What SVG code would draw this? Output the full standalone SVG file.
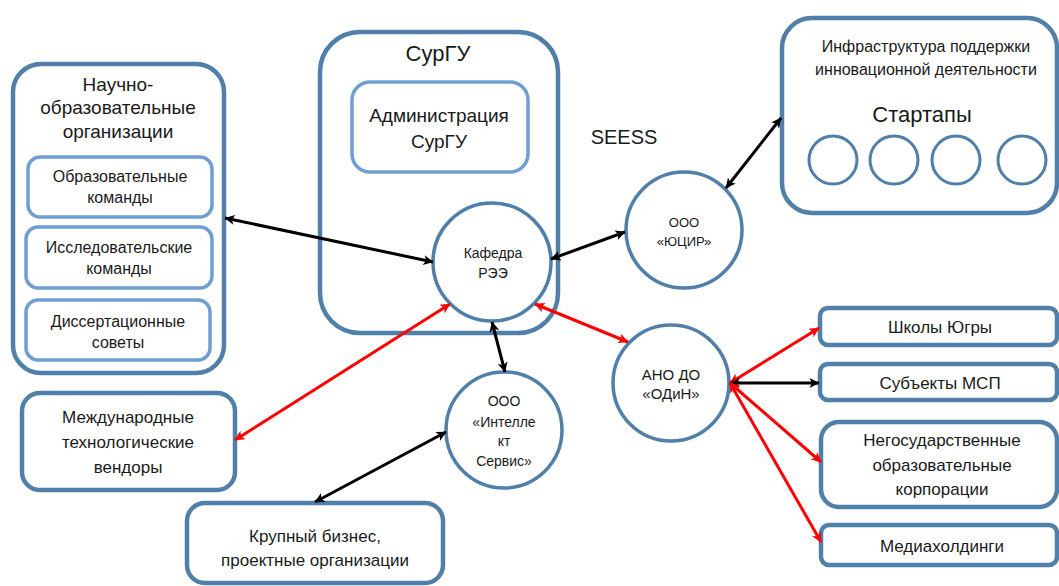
<svg xmlns="http://www.w3.org/2000/svg" width="1059" height="586" viewBox="0 0 1059 586">
  <defs>
    <marker id="ah-black" viewBox="0 0 10 10" refX="9.5" refY="5" markerWidth="11" markerHeight="10" markerUnits="userSpaceOnUse" orient="auto-start-reverse">
      <path d="M0,0 L10,5 L0,10 L2.5,5 Z" fill="#000"/>
    </marker>
    <marker id="ah-red" viewBox="0 0 10 10" refX="9.5" refY="5" markerWidth="11" markerHeight="10" markerUnits="userSpaceOnUse" orient="auto-start-reverse">
      <path d="M0,0 L10,5 L0,10 L2.5,5 Z" fill="#ff0000"/>
    </marker>
  </defs>
  <style>
    .box { fill: #fff; stroke: #507fa9; stroke-width: 4.5; }
    .sub { fill: #fff; stroke: #6f9fd2; stroke-width: 3.5; }
    .circ { fill: #fff; stroke: #507fa9; stroke-width: 3.5; }
    .dot { fill: none; stroke: #507fa9; stroke-width: 3; }
    text { font-family: "Liberation Sans", Arial, sans-serif; fill: #1a1a1a; text-anchor: middle; }
    .t22 { font-size: 22px; }
    .t20 { font-size: 20px; }
    .t19 { font-size: 19px; }
    .t17 { font-size: 17px; }
    .t16 { font-size: 16px; }
    .t15 { font-size: 15px; }
    .t14 { font-size: 14px; }
    .t13 { font-size: 13px; }
    .blk { stroke: #000; stroke-width: 3; fill: none; marker-start: url(#ah-black); marker-end: url(#ah-black); }
    .red { stroke: #ff0000; stroke-width: 3; fill: none; marker-start: url(#ah-red); marker-end: url(#ah-red); }
  </style>

  <rect width="1059" height="586" fill="#fff"/>

  <!-- research & education organisations -->
  <g id="noo">
    <rect class="box" x="13" y="64" width="211" height="309" rx="28"/>
    <text class="t19" x="118" y="91">Научно-</text>
    <text class="t19" x="118" y="114">образовательные</text>
    <text class="t19" x="118" y="138">организации</text>
  </g>
  <g id="edu-teams">
    <rect class="sub" x="28" y="157" width="184" height="60" rx="12"/>
    <text class="t16" x="120" y="182">Образовательные</text>
    <text class="t16" x="120" y="203">команды</text>
  </g>
  <g id="research-teams">
    <rect class="sub" x="26" y="227" width="186" height="61" rx="12"/>
    <text class="t16" x="119" y="253">Исследовательские</text>
    <text class="t16" x="119" y="274">команды</text>
  </g>
  <g id="councils">
    <rect class="sub" x="26" y="300" width="184" height="60" rx="12"/>
    <text class="t16" x="118" y="327">Диссертационные</text>
    <text class="t16" x="118" y="348">советы</text>
  </g>

  <!-- university -->
  <g id="surgu">
    <rect class="box" x="320" y="32" width="238" height="301" rx="40"/>
    <text class="t22" x="438" y="61">СурГУ</text>
  </g>
  <g id="admin">
    <rect class="sub" x="352" y="82" width="176" height="90" rx="18"/>
    <text class="t19" x="439" y="122">Администрация</text>
    <text class="t19" x="439" y="148">СурГУ</text>
  </g>
  <g id="kafedra">
    <circle class="circ" cx="492" cy="262" r="59"/>
    <text class="t14" x="493" y="258">Кафедра</text>
    <text class="t14" x="493" y="278">РЭЭ</text>
  </g>

  <g id="seess">
    <text class="t20" x="624" y="144">SEESS</text>
  </g>

  <!-- innovation infrastructure -->
  <g id="infra">
    <rect class="box" x="782" y="18" width="275" height="195" rx="30"/>
    <text class="t16" x="926" y="52">Инфраструктура поддержки</text>
    <text class="t16" x="926" y="75">инновационной деятельности</text>
    <text class="t22" x="922" y="122">Стартапы</text>
    <circle class="dot" cx="833" cy="160" r="24"/>
    <circle class="dot" cx="894" cy="160" r="24"/>
    <circle class="dot" cx="956" cy="160" r="24"/>
    <circle class="dot" cx="1022" cy="160" r="24"/>
  </g>

  <g id="yucir">
    <circle class="circ" cx="684" cy="230" r="58"/>
    <text class="t13" x="684" y="227">ООО</text>
    <text class="t13" x="684" y="246">«ЮЦИР»</text>
  </g>

  <g id="odin">
    <circle class="circ" cx="671" cy="383" r="58"/>
    <text class="t15" x="671" y="380">АНО ДО</text>
    <text class="t15" x="671" y="399">«ОДиН»</text>
  </g>

  <g id="intellekt">
    <circle class="circ" cx="504" cy="430" r="58"/>
    <text class="t14" x="504" y="406">ООО</text>
    <text class="t14" x="504" y="427">«Интелле</text>
    <text class="t14" x="504" y="446">кт</text>
    <text class="t14" x="504" y="466">Сервис»</text>
  </g>

  <g id="vendors">
    <rect class="box" x="22" y="393" width="213" height="97" rx="18"/>
    <text class="t17" x="128" y="423">Международные</text>
    <text class="t17" x="128" y="448">технологические</text>
    <text class="t17" x="128" y="473">вендоры</text>
  </g>

  <g id="business">
    <rect class="box" x="187" y="503" width="256" height="80" rx="18"/>
    <text class="t17" x="315" y="542">Крупный бизнес,</text>
    <text class="t17" x="315" y="566">проектные организации</text>
  </g>

  <g id="schools">
    <rect class="box" x="820" y="308" width="237" height="37" rx="8"/>
    <text class="t17" x="940" y="333">Школы Югры</text>
  </g>
  <g id="msp">
    <rect class="box" x="820" y="364" width="237" height="36" rx="8"/>
    <text class="t17" x="940" y="389">Субъекты МСП</text>
  </g>
  <g id="corporations">
    <rect class="box" x="821" y="422" width="236" height="85" rx="18"/>
    <text class="t17" x="942" y="446">Негосударственные</text>
    <text class="t17" x="942" y="471">образовательные</text>
    <text class="t17" x="942" y="495">корпорации</text>
  </g>
  <g id="media">
    <rect class="box" x="821" y="525" width="236" height="40" rx="8"/>
    <text class="t17" x="942" y="552">Медиахолдинги</text>
  </g>

  <!-- connectors -->
  <g id="connectors">
    <line class="blk" x1="225" y1="218" x2="433" y2="262"/>
    <line class="blk" x1="551" y1="259" x2="625" y2="232"/>
    <line class="blk" x1="726" y1="188" x2="781" y2="118"/>
    <line class="blk" x1="492" y1="322" x2="505" y2="372"/>
    <line class="blk" x1="446" y1="432" x2="315" y2="502"/>
    <line class="red" x1="450" y1="304" x2="235" y2="440"/>
    <line class="red" x1="535" y1="304" x2="628" y2="342"/>
    <line class="red" x1="730" y1="383" x2="819" y2="328"/>
    <line class="blk" x1="730" y1="383" x2="819" y2="383"/>
    <line class="red" x1="730" y1="383" x2="821" y2="462"/>
    <line class="red" x1="730" y1="383" x2="821" y2="542"/>
  </g>
</svg>
